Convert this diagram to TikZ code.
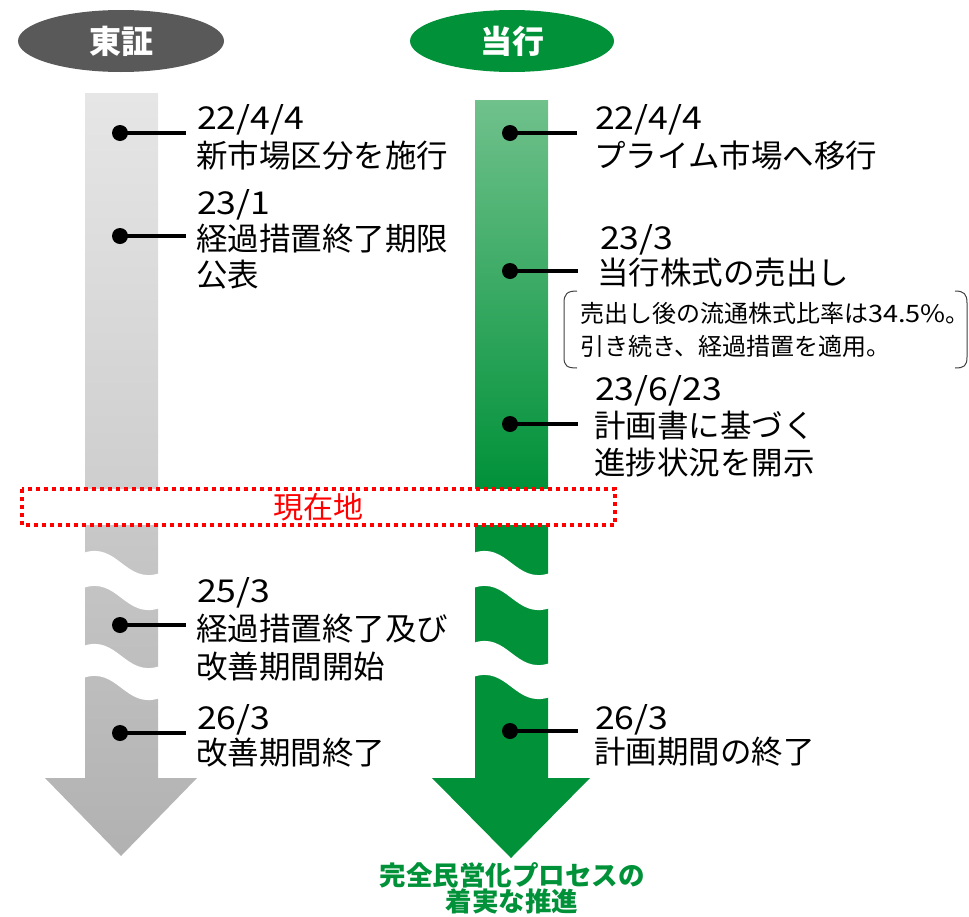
\documentclass[tikz,border=0pt]{standalone}
\usepackage{fontspec}
\newfontfamily\jp{Noto Sans CJK JP}
\newfontfamily\jpnum[FakeStretch=1.13]{Noto Sans CJK JP}
\definecolor{tsegray}{HTML}{595959}
\definecolor{bankgreen}{HTML}{009139}
\definecolor{lightgreen}{HTML}{70C18C}
\definecolor{grayA}{HTML}{E6E6E6}
\definecolor{grayB}{HTML}{CFCECE}
\definecolor{grayC}{HTML}{C9C8C8}
\definecolor{grayD}{HTML}{B2B1B1}
\newcommand{\mywband}[4]{%
  \fill[white] ({#1-2},#3) .. controls ({#1+0.45*(#2-#1)},{#3-12}) and ({#1+0.55*(#2-#1)},{#3+32}) .. ({#2+2},{#3+20})
    -- ({#2+2},{#4+20}) .. controls ({#1+0.55*(#2-#1)},{#4+32}) and ({#1+0.45*(#2-#1)},{#4-12}) .. ({#1-2},#4) -- cycle;}
\begin{document}
\begin{tikzpicture}[x=1pt,y=-1pt,
  tdot/.style={circle,fill=black,inner sep=0pt,minimum size=16pt},
  lead/.style={line width=3.5pt},
  lbl/.style={anchor=base west,inner sep=0pt,font=\jp\fontsize{31.5}{37}\selectfont},
  datelbl/.style={anchor=base west,inner sep=0pt,font=\jpnum\fontsize{31.5}{37}\selectfont},
  note/.style={anchor=base west,inner sep=0pt,font=\jp\fontsize{24}{28}\selectfont},
  headtxt/.style={inner sep=0pt,text=white,font=\jp\bfseries\fontsize{32}{36}\selectfont},
  captxt/.style={anchor=base,inner sep=0pt,text=bankgreen,font=\jp\bfseries\fontsize{26.5}{27}\selectfont},
]
\useasboundingbox (0,0) rectangle (969,916);
% header ellipses
\path[fill=tsegray] (121,41) ellipse [x radius=103, y radius=31];
\node[headtxt] (tse) at (121,41) {東証};
\path[fill=bankgreen] (512,41) ellipse [x radius=102, y radius=31];
\node[headtxt] (bank) at (512,41) {当行};
% TSE arrow
\shade[top color=grayA, bottom color=grayB] (85,93) rectangle (158,490);
\shade[top color=grayC, bottom color=grayD] (85,524) -- (158,524) -- (158,778) -- (197,778) -- (121,856) -- (45,778) -- (85,778) -- cycle;
% bank arrow
\shade[top color=lightgreen, bottom color=bankgreen] (475,100) rectangle (548,490);
\fill[bankgreen] (475,524) -- (548,524) -- (548,778) -- (590,778) -- (511,858) -- (432,778) -- (475,778) -- cycle;
% wave breaks
\mywband{85}{158}{553}{588}
\mywband{85}{158}{646}{678}
\mywband{475}{548}{553}{588}
\mywband{475}{548}{643}{677}
% current position box
\draw[red,fill=white,line width=4pt,dash pattern=on 4pt off 4pt] (22,489) rectangle (615,525);
\node[text=red,inner sep=0pt,font=\jp\fontsize{30}{34}\selectfont] (now) at (318,507) {現在地};
% TSE entries
\node[tdot] (g1) at (120,133) {};
\coordinate (g1e) at (186,133);
\draw[lead] (g1.center) -- (g1e);
\node[datelbl] (g1a) at (197,129) {22/4/4};
\node[lbl] (g1b) at (196,167) {新市場区分を施行};
\node[tdot] (g2) at (120,236) {};
\coordinate (g2e) at (186,236);
\draw[lead] (g2.center) -- (g2e);
\node[datelbl] (g2a) at (197,214) {23/1};
\node[lbl] (g2b) at (196,250) {経過措置終了期限};
\node[lbl] (g2c) at (196,286) {公表};
\node[tdot] (g3) at (120,625) {};
\coordinate (g3e) at (186,625);
\draw[lead] (g3.center) -- (g3e);
\node[datelbl] (g3a) at (197,602) {25/3};
\node[lbl] (g3b) at (196,640) {経過措置終了及び};
\node[lbl] (g3c) at (196,678) {改善期間開始};
\node[tdot] (g4) at (120,733) {};
\coordinate (g4e) at (186,733);
\draw[lead] (g4.center) -- (g4e);
\node[datelbl] (g4a) at (197,729) {26/3};
\node[lbl] (g4b) at (196,764) {改善期間終了};
% bank entries
\node[tdot] (r1) at (510,133) {};
\coordinate (r1e) at (577,133);
\draw[lead] (r1.center) -- (r1e);
\node[datelbl] (r1a) at (595,129) {22/4/4};
\node[lbl] (r1b) at (594,167) {プライム市場へ移行};
\node[tdot] (r2) at (510,271) {};
\coordinate (r2e) at (578,271);
\draw[lead] (r2.center) -- (r2e);
\node[datelbl] (r2a) at (600,249) {23/3};
\node[lbl] (r2b) at (597,284) {当行株式の売出し};
\node[note] (n1) at (580,322) {売出し後の流通株式比率は{\jpnum 34.5\%}。};
\node[note] (n2) at (580,355) {引き続き、経過措置を適用。};
\draw[black!75,line width=1pt] (577,291) .. controls (567,291) and (564,294) .. (564,303) -- (564,357) .. controls (564,366) and (567,368) .. (577,368);
\draw[black!75,line width=1pt] (955,291) .. controls (964,291) and (967,294) .. (967,303) -- (967,357) .. controls (967,366) and (964,368) .. (955,368);
\node[tdot] (r3) at (510,424) {};
\coordinate (r3e) at (578,424);
\draw[lead] (r3.center) -- (r3e);
\node[datelbl] (r3a) at (595,400) {23/6/23};
\node[lbl] (r3b) at (594,437) {計画書に基づく};
\node[lbl] (r3c) at (594,474) {進捗状況を開示};
\node[tdot] (r4) at (510,731) {};
\coordinate (r4e) at (578,731);
\draw[lead] (r4.center) -- (r4e);
\node[datelbl] (r4a) at (595,729) {26/3};
\node[lbl] (r4b) at (594,763) {計画期間の終了};
% bottom caption
\node[captxt] (cap1) at (512,885) {完全民営化プロセスの};
\node[captxt] (cap2) at (512,911) {着実な推進};
\end{tikzpicture}
\end{document}
